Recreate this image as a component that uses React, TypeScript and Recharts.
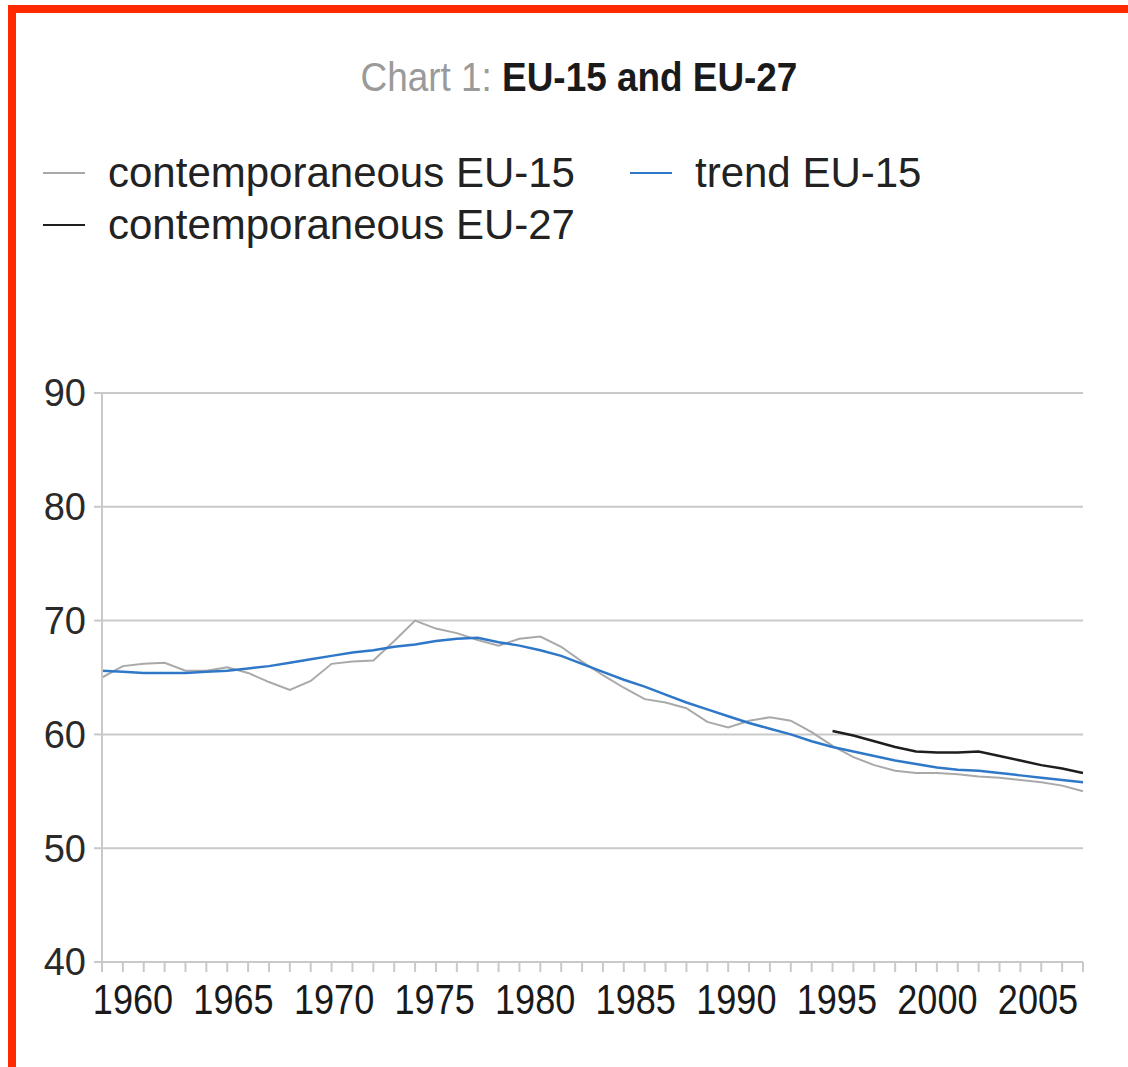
import React from 'react';
import { LineChart, Line, XAxis, YAxis, CartesianGrid } from 'recharts';

const years = [
  1960, 1961, 1962, 1963, 1964, 1965, 1966, 1967, 1968, 1969,
  1970, 1971, 1972, 1973, 1974, 1975, 1976, 1977, 1978, 1979,
  1980, 1981, 1982, 1983, 1984, 1985, 1986, 1987, 1988, 1989,
  1990, 1991, 1992, 1993, 1994, 1995, 1996, 1997, 1998, 1999,
  2000, 2001, 2002, 2003, 2004, 2005, 2006, 2007,
];

const eu15Contemporaneous = [
  65.0, 66.0, 66.2, 66.3, 65.6, 65.6, 65.9, 65.4, 64.6, 63.9,
  64.7, 66.2, 66.4, 66.5, 68.2, 70.0, 69.3, 68.9, 68.3, 67.8,
  68.4, 68.6, 67.7, 66.4, 65.2, 64.1, 63.1, 62.8, 62.3, 61.1,
  60.6, 61.2, 61.5, 61.2, 60.2, 59.0, 58.0, 57.3, 56.8, 56.6,
  56.6, 56.5, 56.3, 56.2, 56.0, 55.8, 55.5, 55.0,
];

const eu15Trend = [
  65.6, 65.5, 65.4, 65.4, 65.4, 65.5, 65.6, 65.8, 66.0, 66.3,
  66.6, 66.9, 67.2, 67.4, 67.7, 67.9, 68.2, 68.4, 68.5, 68.1,
  67.8, 67.4, 66.9, 66.2, 65.5, 64.8, 64.2, 63.5, 62.8, 62.2,
  61.6, 61.0, 60.5, 60.0, 59.4, 58.9, 58.5, 58.1, 57.7, 57.4,
  57.1, 56.9, 56.8, 56.6, 56.4, 56.2, 56.0, 55.8,
];

const eu27Years = [1995, 1996, 1997, 1998, 1999, 2000, 2001, 2002, 2003, 2004, 2005, 2006, 2007];
const eu27Contemporaneous = [60.3, 59.9, 59.4, 58.9, 58.5, 58.4, 58.4, 58.5, 58.1, 57.7, 57.3, 57.0, 56.6];

const yTicks = [40, 50, 60, 70, 80, 90];
const xLabelYears = [1960, 1965, 1970, 1975, 1980, 1985, 1990, 1995, 2000, 2005];

const seriesNames = {
  eu15: 'contemporaneous EU-15',
  trend: 'trend EU-15',
  eu27: 'contemporaneous EU-27',
};
const titlePrefix = 'Chart 1: ';
const titleMain = 'EU-15 and EU-27';

const data = years.map((year, i) => {
  const j = eu27Years.indexOf(year);
  return {
    year,
    eu15: eu15Contemporaneous[i],
    trend: eu15Trend[i],
    eu27: j >= 0 ? eu27Contemporaneous[j] : null,
  };
});

const GREY = '#a9a9a9';
const BLUE = '#2f78c8';
const BLACK = '#1e1e1e';
const GRID = '#c9c9c9';
const SANS = '"Liberation Sans", Arial, sans-serif';

const EmptyTick = () => <g />;

const YearLabel = (props: any) => {
  const { x, y, payload } = props;
  return (
    <text
      transform={`translate(${x},${y}) scale(0.86,1)`}
      x={0}
      y={0}
      dy="0.71em"
      textAnchor="middle"
      fontFamily={SANS}
      fontSize={42}
      fill="#1a1a1a"
    >
      {payload.value}
    </text>
  );
};

const LegendRow = ({ color, label, left, top }: { color: string; label: string; left: number; top: number }) => (
  <div style={{ position: 'absolute', left, top, height: 52, display: 'flex', alignItems: 'center', whiteSpace: 'nowrap' }}>
    <div style={{ width: 42, height: 2, background: color, marginRight: 23 }} />
    <span style={{ fontFamily: SANS, fontSize: 42, color: '#222', lineHeight: '52px' }}>{label}</span>
  </div>
);

export default function App() {
  return (
    <div style={{ position: 'absolute', left: 0, top: 0, width: 1128, height: 1067, background: '#fff', overflow: 'hidden' }}>
      <div style={{ position: 'absolute', left: 8, top: 5, width: 1120, height: 8, background: '#ff2a00' }} />
      <div style={{ position: 'absolute', left: 8, top: 5, width: 8, height: 1062, background: '#ff2a00' }} />
      <div
        style={{
          position: 'absolute', left: 0, top: 52, width: 1158, textAlign: 'center',
          fontFamily: SANS, fontSize: 41, lineHeight: '50px', whiteSpace: 'nowrap',
          transform: 'scaleX(0.9)', transformOrigin: '579px 0',
        }}
      >
        <span style={{ color: '#9a9a9a' }}>{titlePrefix}</span>
        <span style={{ color: '#1a1a1a', fontWeight: 'bold' }}>{titleMain}</span>
      </div>
      <LegendRow color={GREY} label={seriesNames.eu15} left={43} top={147} />
      <LegendRow color={BLUE} label={seriesNames.trend} left={630} top={147} />
      <LegendRow color={BLACK} label={seriesNames.eu27} left={43} top={199} />
      <div style={{ position: 'absolute', left: 0, top: 0 }}>
        <LineChart width={1128} height={1067} data={data} margin={{ top: 393, right: 45, bottom: 33, left: 0 }}>
          <CartesianGrid horizontal vertical={false} stroke={GRID} strokeWidth={2} />
          <XAxis
            xAxisId="a_years"
            dataKey="year"
            type="number"
            domain={[1960, 2007]}
            ticks={years}
            interval={0}
            height={12}
            tickSize={10}
            tick={EmptyTick}
            axisLine={{ stroke: GRID, strokeWidth: 2 }}
            tickLine={{ stroke: GRID, strokeWidth: 2 }}
          />
          <XAxis
            xAxisId="b_labels"
            dataKey="year"
            type="number"
            domain={[1958.46, 2007.24]}
            allowDataOverflow
            ticks={xLabelYears}
            interval={0}
            height={60}
            tickSize={0}
            tickMargin={10}
            axisLine={false}
            tickLine={false}
            tick={YearLabel}
          />
          <YAxis
            type="number"
            domain={[40, 90]}
            ticks={yTicks}
            interval={0}
            width={102}
            tickSize={8}
            tickMargin={8}
            axisLine={{ stroke: GRID, strokeWidth: 2 }}
            tickLine={{ stroke: GRID, strokeWidth: 2 }}
            tick={{ fontFamily: SANS, fontSize: 38, fill: '#2a2a2a' }}
          />
          <Line xAxisId="a_years" type="linear" dataKey="eu15" name={seriesNames.eu15} stroke={GREY} strokeWidth={2} dot={false} isAnimationActive={false} />
          <Line xAxisId="a_years" type="linear" dataKey="trend" name={seriesNames.trend} stroke={BLUE} strokeWidth={2.5} dot={false} isAnimationActive={false} />
          <Line xAxisId="a_years" type="linear" dataKey="eu27" name={seriesNames.eu27} stroke={BLACK} strokeWidth={2.5} dot={false} isAnimationActive={false} />
        </LineChart>
      </div>
    </div>
  );
}
